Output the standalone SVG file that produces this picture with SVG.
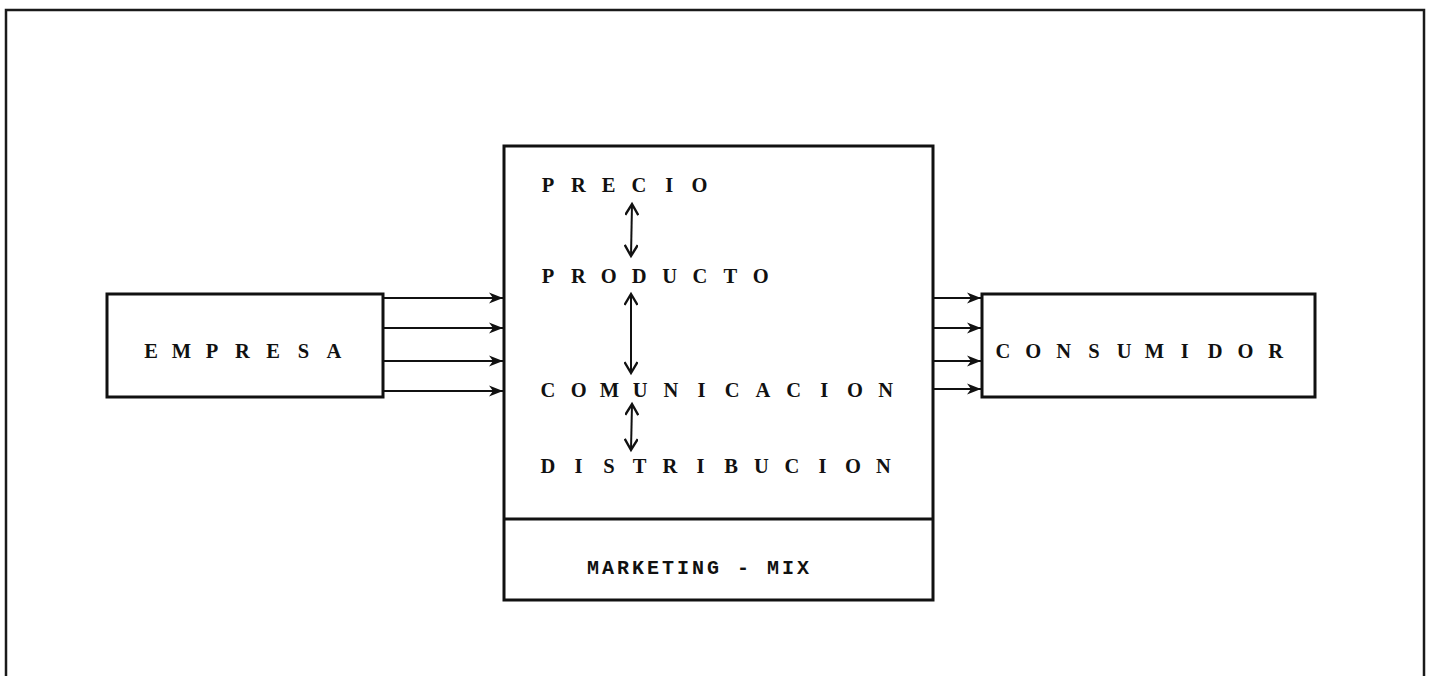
<svg xmlns="http://www.w3.org/2000/svg" width="1431" height="676" viewBox="0 0 1431 676">
  <style>
    .frame { fill: none; stroke: #1a1a1a; stroke-width: 2.5; }
    .box { fill: #ffffff; stroke: #111111; stroke-width: 3; }
    .flow { fill: none; stroke: #111111; stroke-width: 1.8; marker-end: url(#arrow); }
    .link { fill: none; stroke: #111111; stroke-width: 2; marker-start: url(#chev); marker-end: url(#chev); }
    .lbl { font-family: "Liberation Serif", "DejaVu Serif", serif; font-weight: bold; font-size: 20.5px; text-anchor: middle; fill: #111111; }
    .mix { font-family: "Liberation Mono", "DejaVu Sans Mono", monospace; font-weight: bold; font-size: 20px; letter-spacing: 3px; fill: #111111; }
  </style>
  <defs>
    <marker id="arrow" markerUnits="userSpaceOnUse" markerWidth="16" markerHeight="14" refX="14" refY="7" orient="auto">
      <path d="M0,1.5 L14,7 L0,12.5 L4,7 z" fill="#111111"/>
    </marker>
    <marker id="chev" markerUnits="userSpaceOnUse" markerWidth="20" markerHeight="14" refX="12" refY="7" orient="auto-start-reverse">
      <path d="M1,0.5 L12,7 L1,13.5" fill="none" stroke="#111111" stroke-width="2.4"/>
    </marker>
  </defs>

  <!-- outer frame, open at the bottom -->
  <path class="frame" d="M6,676 L6,10 L1424,10 L1424,676"/>

  <g id="empresa">
    <rect class="box" x="107" y="294" width="276" height="103"/>
    <text class="lbl" x="151 181.5 212 242.5 273 303.5 334" y="358">EMPRESA</text>
  </g>

  <g id="marketing-mix">
    <rect class="box" x="504" y="146" width="429" height="454"/>
    <line x1="504" y1="519" x2="933" y2="519" stroke="#111111" stroke-width="3"/>
    <text class="lbl" x="548 578.3 608.6 638.9 669.2 699.5" y="192">PRECIO</text>
    <text class="lbl" x="548 578.4 608.8 639.2 669.6 700 730.4 760.8" y="283">PRODUCTO</text>
    <text class="lbl" x="548 578.7 609.4 640.1 670.8 701.5 732.2 762.9 793.6 824.3 855 885.7" y="397">COMUNICACION</text>
    <text class="lbl" x="548 578.5 609 639.5 670 700.5 731 761.5 792 822.5 853 883.5" y="473">DISTRIBUCION</text>
    <text class="mix" x="587" y="574">MARKETING - MIX</text>
  </g>

  <g id="consumidor">
    <rect class="box" x="982" y="294" width="333" height="103"/>
    <text class="lbl" x="1003 1033.3 1063.6 1093.9 1124.2 1154.5 1184.8 1215.1 1245.4 1275.7" y="358">CONSUMIDOR</text>
  </g>

  <g id="connectors">
    <!-- empresa to marketing mix -->
    <line class="flow" x1="384" y1="298" x2="503" y2="298"/>
    <line class="flow" x1="384" y1="328" x2="503" y2="328"/>
    <line class="flow" x1="384" y1="361" x2="503" y2="361"/>
    <line class="flow" x1="384" y1="391" x2="503" y2="391"/>
    <!-- marketing mix to consumidor -->
    <line class="flow" x1="934" y1="298" x2="981" y2="298"/>
    <line class="flow" x1="934" y1="328" x2="981" y2="328"/>
    <line class="flow" x1="934" y1="361" x2="981" y2="361"/>
    <line class="flow" x1="934" y1="389" x2="981" y2="389"/>
    <!-- links between the mix elements -->
    <line class="link" x1="632" y1="204" x2="631" y2="256"/>
    <line class="link" x1="631" y1="294" x2="631" y2="373"/>
    <line class="link" x1="632" y1="404" x2="631" y2="450"/>
  </g>
</svg>
